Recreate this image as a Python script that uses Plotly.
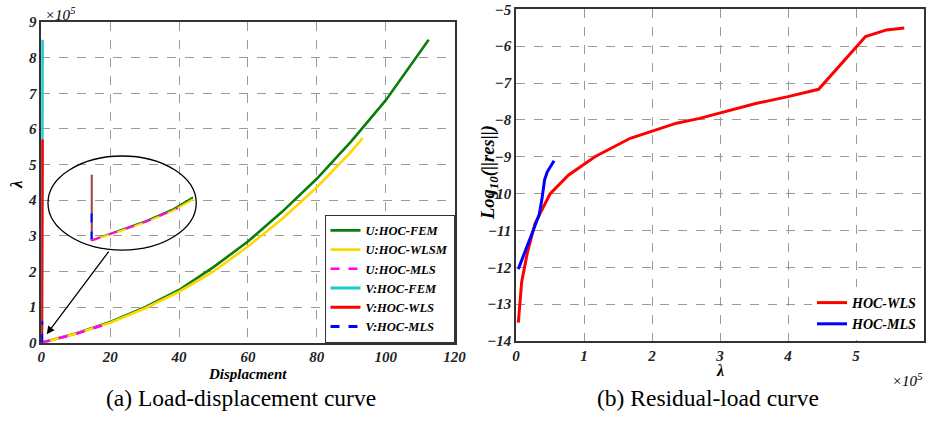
import plotly.graph_objects as go

# ---------------- data: (a) load-displacement ----------------
u_fem_x = [0, 10, 20, 30, 40, 50, 60, 70, 80, 90, 100, 112.5]
u_fem_y = [0, 0.26, 0.58, 0.99, 1.48, 2.12, 2.84, 3.68, 4.6, 5.65, 6.8, 8.5]
u_wlsm_x = [0, 10, 20, 30, 40, 50, 60, 70, 80, 90, 93.3]
u_wlsm_y = [0, 0.25, 0.56, 0.96, 1.43, 2.0, 2.7, 3.48, 4.36, 5.36, 5.74]
u_mls_x = [0, 5, 10, 15, 20]
u_mls_y = [0, 0.12, 0.25, 0.4, 0.56]
v_fem_x = [0.1, 0.3]
v_fem_y = [0, 8.5]
v_wls_x = [0.1, 0.3]
v_wls_y = [0, 5.7]
v_mls_x = [0.1, 0.15]
v_mls_y = [0, 0.6]

# magnified view inside the ellipse
inset_v_x = [14.6, 14.6]
inset_fem_v_y = [2.87, 4.71]
inset_mls_v_y = [2.87, 3.82]
inset_curve_x = [14.6, 22, 30.5, 38, 44.06]
inset_fem_y = [2.87, 3.12, 3.42, 3.73, 4.08]
inset_wlsm_y = [2.87, 3.1, 3.39, 3.69, 4.02]
inset_mls_x = [14.6, 22, 30.5, 39.6]
inset_mls_y = [2.87, 3.11, 3.4, 3.78]
ellipse_x = [1.94, 45.0]
ellipse_y = [2.6, 5.24]
arrow_tail = [19.9, 2.6]
arrow_head = [1.57, 0.24]

# ---------------- data: (b) residual-load ----------------
wls_lam = [0.034, 0.084, 0.17, 0.28, 0.5, 0.77, 1.16, 1.68, 2.36, 2.7, 3.54, 4.0, 4.45, 5.14, 5.45, 5.71]
wls_res = [-13.5, -12.39, -11.58, -10.81, -10.01, -9.5, -9.0, -8.5, -8.09, -7.96, -7.55, -7.37, -7.17, -5.74, -5.56, -5.51]
mls_lam = [0.034, 0.157, 0.34, 0.38, 0.42, 0.46, 0.56]
mls_res = [-12.05, -11.48, -10.58, -10.17, -9.63, -9.41, -9.11]

left_xticks = [0, 20, 40, 60, 80, 100, 120]
left_yticks = [0, 1, 2, 3, 4, 5, 6, 7, 8, 9]
right_xticks = [0, 1, 2, 3, 4, 5, 6]
right_yticks = [-14, -13, -12, -11, -10, -9, -8, -7, -6, -5]

W, H = 928, 422
SERIF = "Liberation Serif, Times New Roman, Times, serif"
BI = dict(family=SERIF, size=14, color="black", weight="bold", style="italic")

GREEN, YELLOW, MAGENTA = "#0a7d0a", "#ffd700", "#ff00ff"
CYAN, RED, BLUE = "#1ec8c8", "#ff0000", "#0000ff"

fig = go.Figure()

def add(x, y, name, color, dash="solid", width=2.6, legend="legend", show=True, xa="x", ya="y"):
    fig.add_trace(go.Scatter(x=x, y=y, mode="lines", name=name,
                             line=dict(color=color, width=width, dash=dash),
                             showlegend=show, legend=legend, xaxis=xa, yaxis=ya))

add(u_fem_x, u_fem_y, "U:HOC-FEM", GREEN)
add(u_wlsm_x, u_wlsm_y, "U:HOC-WLSM", YELLOW)
add(u_mls_x, u_mls_y, "U:HOC-MLS", MAGENTA, dash="dash")
add(v_fem_x, v_fem_y, "V:HOC-FEM", CYAN, width=3)
add(v_wls_x, v_wls_y, "V:HOC-WLS", RED, width=3)
add(v_mls_x, v_mls_y, "V:HOC-MLS", BLUE, dash="dash", width=3)

# inset traces
add(inset_v_x, inset_fem_v_y, "", CYAN, width=2, show=False)
add([v + 0.1 for v in inset_v_x], inset_fem_v_y, "", RED, width=1.3, show=False)
add(inset_v_x, inset_mls_v_y, "", BLUE, dash="dash", width=2, show=False)
add(inset_curve_x, inset_fem_y, "", GREEN, width=2, show=False)
add(inset_curve_x, inset_wlsm_y, "", YELLOW, width=2, show=False)
add(inset_mls_x, inset_mls_y, "", MAGENTA, dash="dash", width=2, show=False)

# right panel
add(wls_lam, wls_res, "HOC-WLS", RED, width=3, legend="legend2", xa="x2", ya="y2")
add(mls_lam, mls_res, "HOC-MLS", BLUE, width=3, legend="legend2", xa="x2", ya="y2")

def px_x(p):
    return p / W

def px_y(p):
    return 1 - p / H

axis_common = dict(showgrid=True, gridcolor="#9a9a9a", griddash="dash", gridwidth=1,
                   zeroline=False, showline=True, linecolor="#333333", linewidth=1.5,
                   mirror=True, ticks="", automargin=False,
                   tickfont=dict(family=SERIF, size=15, color="#222",
                                 weight="bold", style="italic"))

fig.update_layout(
    width=W, height=H, margin=dict(l=0, r=0, t=0, b=0, autoexpand=False),
    paper_bgcolor="white", plot_bgcolor="white",
    xaxis=dict(domain=[px_x(41.3), px_x(454.5)], range=[0, 120], tickvals=left_xticks,
               anchor="y", **axis_common),
    yaxis=dict(domain=[px_y(342.7), px_y(22)], range=[0, 9], tickvals=left_yticks,
               anchor="x", **axis_common),
    xaxis2=dict(domain=[px_x(516), px_x(924)], range=[0, 6], tickvals=right_xticks,
                anchor="y2", **axis_common),
    yaxis2=dict(domain=[px_y(341), px_y(9.3)], range=[-14, -5], tickvals=right_yticks,
                anchor="x2", **axis_common),
    legend=dict(x=px_x(454.5), xanchor="right", y=px_y(342.7), yanchor="bottom",
                bgcolor="white", bordercolor="#333333", borderwidth=1,
                font=dict(family=SERIF, size=12.5, color="black", weight="bold", style="italic"),
                itemwidth=30, tracegroupgap=0),
    legend2=dict(x=px_x(922), xanchor="right", y=px_y(340), yanchor="bottom",
                 bgcolor="white", borderwidth=0,
                 font=dict(family=SERIF, size=14, color="black", weight="bold", style="italic"),
                 itemwidth=30, tracegroupgap=0),
    showlegend=True,
)

# ellipse & arrow
fig.add_shape(type="circle", xref="x", yref="y", x0=ellipse_x[0], x1=ellipse_x[1],
              y0=ellipse_y[0], y1=ellipse_y[1], line=dict(color="black", width=1.3))
fig.add_annotation(x=arrow_head[0], y=arrow_head[1], ax=arrow_tail[0], ay=arrow_tail[1],
                   xref="x", yref="y", axref="x", ayref="y", text="", showarrow=True,
                   arrowhead=2, arrowsize=1.2, arrowwidth=1.3, arrowcolor="black")

ann = []
# axis titles
ann.append(dict(text="λ", x=px_x(17), y=px_y(185), textangle=-90, font=dict(**{**BI, "size": 17})))
ann.append(dict(text="Displacment", x=px_x(248), y=px_y(374), font=dict(**{**BI, "size": 15})))
ann.append(dict(text="Log<sub>10</sub>(||res||)", x=px_x(489), y=px_y(173), textangle=-90,
                font=dict(**{**BI, "size": 18.5})))
ann.append(dict(text="λ", x=px_x(720), y=px_y(370), font=dict(**{**BI, "size": 16})))
# exponent labels
ann.append(dict(text="×10<sup>5</sup>", x=px_x(43), y=px_y(14), xanchor="left",
                font=dict(family=SERIF, size=15, color="black", style="italic")))
ann.append(dict(text="×10<sup>5</sup>", x=px_x(924), y=px_y(380), xanchor="right",
                font=dict(family=SERIF, size=15, color="black", style="italic")))
# captions
ann.append(dict(text="(a) Load-displacement curve", x=px_x(241), y=px_y(398),
                font=dict(family=SERIF, size=23.5, color="black")))
ann.append(dict(text="(b) Residual-load curve", x=px_x(708), y=px_y(398),
                font=dict(family=SERIF, size=23.5, color="black")))
for a in ann:
    fig.add_annotation(xref="paper", yref="paper", showarrow=False,
                       xanchor=a.pop("xanchor", "center"), yanchor="middle", **a)

fig.write_html("out.html", config={"displayModeBar": False},
               post_script="document.body.style.margin='0px';")
